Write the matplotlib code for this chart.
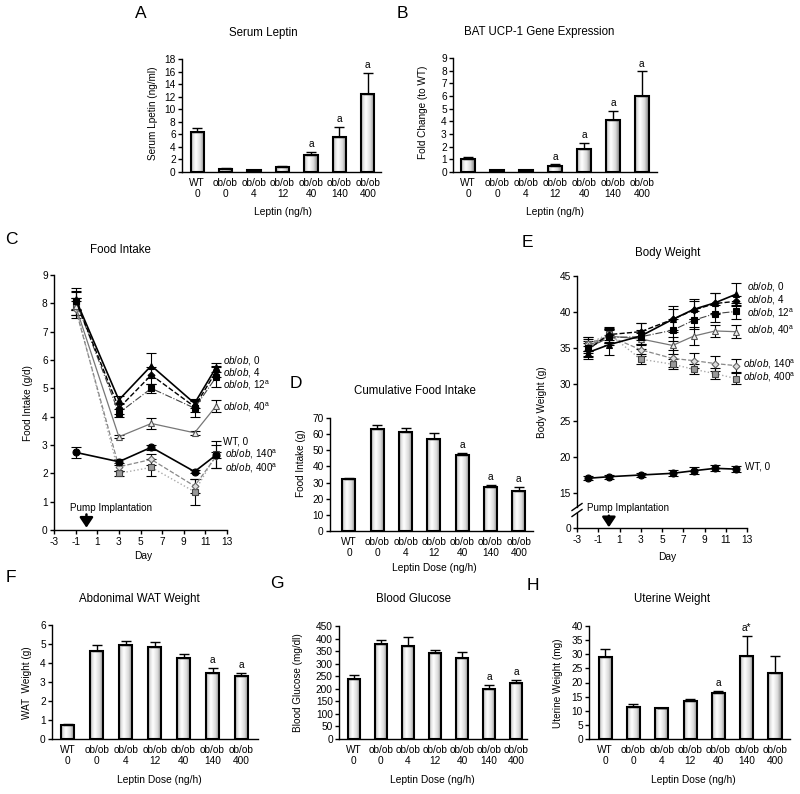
import numpy as np
import matplotlib
matplotlib.use('Agg')
import matplotlib.pyplot as plt
from matplotlib.lines import Line2D

TICK_FS = 7.3
TITLE_FS = 8.3
XLAB_FS = 7.4
YLAB_FS = 7.2
LETTER_FS = 12.5
SERIES_FS = 7.1

plt.rcParams.update({
    'font.family': 'Liberation Sans',
    'mathtext.fontset': 'custom',
    'mathtext.rm': 'Liberation Sans',
    'mathtext.it': 'Liberation Sans:italic',
    'axes.unicode_minus': False,
    'axes.linewidth': 1.0,
    'xtick.labelsize': TICK_FS, 'ytick.labelsize': TICK_FS,
    'xtick.major.width': 1.0, 'ytick.major.width': 1.0,
    'xtick.major.size': 3, 'ytick.major.size': 3,
    'xtick.direction': 'out', 'ytick.direction': 'out',
    'xtick.major.pad': 2, 'ytick.major.pad': 1.5,
})

# ---------------- data ----------------
groups = ['WT\n0', 'ob/ob\n0', 'ob/ob\n4', 'ob/ob\n12', 'ob/ob\n40', 'ob/ob\n140', 'ob/ob\n400']

leptin_vals = [6.4, 0.5, 0.25, 0.8, 2.7, 5.5, 12.5]
leptin_err = [0.6, 0.1, 0.05, 0.1, 0.5, 1.7, 3.3]
leptin_sig = ['', '', '', '', 'a', 'a', 'a']

ucp_vals = [1.0, 0.12, 0.15, 0.5, 1.8, 4.1, 6.0]
ucp_err = [0.2, 0.02, 0.03, 0.1, 0.5, 0.75, 1.95]
ucp_sig = ['', '', '', 'a', 'a', 'a', 'a']

cum_vals = [32, 63, 61.5, 57, 47, 27.5, 24.5]
cum_err = [1.0, 2.5, 2.5, 3.5, 1.2, 1.3, 3.0]
cum_sig = ['', '', '', '', 'a', 'a', 'a']

wat_vals = [0.72, 4.65, 4.93, 4.82, 4.25, 3.5, 3.32]
wat_err = [0.05, 0.3, 0.25, 0.3, 0.25, 0.25, 0.15]
wat_sig = ['', '', '', '', '', 'a', 'a']

glu_vals = [240, 380, 370, 342, 322, 200, 225]
glu_err = [15, 15, 35, 12, 25, 15, 10]
glu_sig = ['', '', '', '', '', 'a', 'a']

ut_vals = [29, 11.3, 10.8, 13.6, 16.3, 29.5, 23.5]
ut_err = [3, 1.0, 0.3, 0.5, 0.8, 7.0, 6.0]
ut_sig = ['', '', '', '', 'a', 'a*', '']

fi_days = [-1, 3, 6, 10, 12]
fi_ob0 = [8.15, 4.59, 5.8, 4.47, 5.74]
fi_ob0_err = [0.4, 0.15, 0.45, 0.15, 0.15]
fi_ob4 = [8.1, 4.3, 5.47, 4.35, 5.6]
fi_ob4_err = [0.3, 0.2, 0.3, 0.2, 0.2]
fi_ob12 = [8.1, 4.13, 5.0, 4.3, 5.4]
fi_ob12_err = [0.35, 0.15, 0.15, 0.3, 0.35]
fi_ob40 = [7.9, 3.29, 3.76, 3.43, 4.38]
fi_ob40_err = [0.3, 0.05, 0.2, 0.08, 0.2]
fi_wt = [2.74, 2.41, 2.92, 2.06, 2.65]
fi_wt_err = [0.2, 0.1, 0.08, 0.05, 0.1]
fi_ob140 = [7.8, 2.23, 2.49, 1.55, 2.6]
fi_ob140_err = [0.3, 0.15, 0.2, 0.25, 0.4]
fi_ob400 = [7.9, 2.0, 2.21, 1.35, 2.67]
fi_ob400_err = [0.3, 0.08, 0.3, 0.45, 0.48]

bw_days = [-2, 0, 3, 6, 8, 10, 12]
bw_ob0 = [34.4, 35.5, 36.7, 39.0, 40.4, 41.3, 42.5]
bw_ob0_err = [0.9, 1.4, 1.8, 1.8, 1.4, 1.4, 1.5]
bw_ob4 = [34.8, 36.9, 37.3, 39.0, 40.3, 41.2, 41.5]
bw_ob4_err = [1.0, 1.0, 1.2, 1.5, 1.3, 1.4, 0.7]
bw_ob12 = [35.0, 36.5, 36.6, 37.5, 38.9, 39.8, 40.1]
bw_ob12_err = [1.0, 1.0, 1.0, 1.5, 1.2, 1.2, 1.1]
bw_ob40 = [35.3, 36.7, 36.3, 35.4, 36.7, 37.4, 37.3]
bw_ob40_err = [1.0, 1.0, 0.8, 1.2, 1.2, 0.8, 0.9]
bw_ob140 = [35.6, 36.7, 34.8, 33.6, 33.3, 32.9, 32.6]
bw_ob140_err = [0.9, 1.0, 0.8, 1.2, 1.0, 1.0, 0.9]
bw_ob400 = [35.6, 37.0, 33.5, 32.8, 32.1, 31.5, 30.8]
bw_ob400_err = [0.9, 0.8, 0.7, 0.7, 0.7, 0.8, 0.8]
bw_wt = [17.03, 17.25, 17.49, 17.72, 18.08, 18.41, 18.3]
bw_wt_err = [0.3, 0.3, 0.3, 0.4, 0.5, 0.4, 0.4]

# ---------------- helpers ----------------
W, H = 800, 794
fig = plt.figure(figsize=(W / 100, H / 100), dpi=100)


def px_axes(l, t, r, b):
    return fig.add_axes([l / W, 1 - b / H, (r - l) / W, (b - t) / H])


def ftext(x, y, s, **kw):
    kw.setdefault('ha', 'center')
    kw.setdefault('va', 'center')
    fig.text(x / W, 1 - y / H, s, **kw)


prof_x = np.linspace(0, 1, 60)
grad = np.interp(prof_x, [0, 0.12, 0.35, 0.7, 1.0], [0.52, 0.85, 1.0, 0.85, 0.48]).reshape(1, -1)


def style_axes(ax):
    ax.spines['top'].set_visible(False)
    ax.spines['right'].set_visible(False)


def bar_panel(ax, vals, errs, sig, ylim, ystep, xlim):
    x = np.arange(len(vals))
    bars = ax.bar(x, vals, width=0.46, facecolor='none', edgecolor='k', linewidth=1.5, zorder=3)
    for b in bars:
        bx, by, bw, bh = b.get_x(), b.get_y(), b.get_width(), b.get_height()
        im = ax.imshow(grad, extent=[bx, bx + bw, by, by + bh], cmap='gray', vmin=0, vmax=1,
                       aspect='auto', interpolation='bilinear', zorder=2.5)
        im.set_clip_path(b)
    ax.errorbar(x, vals, yerr=[np.zeros(len(vals)), errs], fmt='none', ecolor='k',
                elinewidth=1.0, capsize=3.5, capthick=1.0, zorder=4)
    for xi, v, e, s in zip(x, vals, errs, sig):
        if s:
            ax.annotate(s, (xi, v + e), xytext=(0, 2), textcoords='offset points',
                        ha='center', va='bottom', fontsize=TICK_FS)
    ax.set_xticks(x, groups)
    ax.tick_params(axis='x', length=0, pad=4)
    ax.set_xlim(*xlim)
    ax.set_ylim(*ylim)
    ax.set_yticks(np.arange(ylim[0], ylim[1] + ystep / 2, ystep))
    style_axes(ax)


# ---------------- A ----------------
axA = px_axes(182, 59, 381, 172)
bar_panel(axA, leptin_vals, leptin_err, leptin_sig, (0, 18), 2, (-0.53, 6.46))
ftext(141, 14, 'A', fontsize=LETTER_FS)
ftext(263, 33, 'Serum Leptin', fontsize=TITLE_FS)
ftext(153, 113, 'Serum Lpetin (ng/ml)', fontsize=YLAB_FS, rotation=90)
ftext(283, 212, 'Leptin (ng/h)', fontsize=XLAB_FS)

# ---------------- B ----------------
axB = px_axes(453, 58, 657, 172)
bar_panel(axB, ucp_vals, ucp_err, ucp_sig, (0, 9), 1, (-0.52, 6.52))
ftext(402, 14, 'B', fontsize=LETTER_FS)
ftext(539, 32, 'BAT UCP-1 Gene Expression', fontsize=TITLE_FS)
ftext(423, 112, 'Fold Change (to WT)', fontsize=YLAB_FS, rotation=90)
ftext(555, 212, 'Leptin (ng/h)', fontsize=XLAB_FS)

# ---------------- line series styles ----------------
def series(ax, days, vals, errs, marker, ms, mfc, mec, color, ls, lw):
    ax.errorbar(days, vals, yerr=errs, fmt='none', ecolor='k', elinewidth=0.8,
                capsize=3.5, capthick=0.8, zorder=2)
    ax.plot(days, vals, ls=ls, color=color, lw=lw, marker=marker, ms=ms,
            mfc=mfc, mec=mec, mew=0.8, zorder=3)


# ---------------- C ----------------
axC = px_axes(54, 275, 227, 530)
series(axC, fi_days, fi_ob400, fi_ob400_err, 's', 5, '#999999', '#444444', '#aaaaaa', ':', 1.0)
series(axC, fi_days, fi_ob140, fi_ob140_err, 'D', 3.5, '#dddddd', '#666666', '#888888', '--', 0.9)
series(axC, fi_days, fi_wt, fi_wt_err, 'o', 5, 'k', 'k', 'k', '-', 1.2)
series(axC, fi_days, fi_ob40, fi_ob40_err, '^', 5, '#eeeeee', '#555555', '#777777', '-', 0.9)
series(axC, fi_days, fi_ob12, fi_ob12_err, 's', 4.5, 'k', 'k', '#444444', '-.', 0.8)
series(axC, fi_days, fi_ob4, fi_ob4_err, 'D', 3.5, 'k', 'k', 'k', '--', 1.0)
series(axC, fi_days, fi_ob0, fi_ob0_err, '^', 5, 'k', 'k', 'k', '-', 1.2)
axC.set_xlim(-3, 13)
axC.set_ylim(0, 9)
axC.set_xticks(np.arange(-3, 14, 2))
axC.set_yticks(np.arange(0, 10, 1))
style_axes(axC)
lab_kw = dict(fontsize=SERIES_FS, ha='left', va='center', clip_on=False)
axC.text(12.65, 6.0, r'$\mathit{ob/ob}$, 0', **lab_kw)
axC.text(12.65, 5.55, r'$\mathit{ob/ob}$, 4', **lab_kw)
axC.text(12.65, 5.10, r'$\mathit{ob/ob}$, 12$^{\mathrm{a}}$', **lab_kw)
axC.text(12.65, 4.34, r'$\mathit{ob/ob}$, 40$^{\mathrm{a}}$', **lab_kw)
axC.text(12.65, 3.14, 'WT, 0', **lab_kw)
axC.text(12.83, 2.68, r'$\mathit{ob/ob}$, 140$^{\mathrm{a}}$', **lab_kw)
axC.text(12.83, 2.17, r'$\mathit{ob/ob}$, 400$^{\mathrm{a}}$', **lab_kw)
axC.text(-1.5, 0.78, 'Pump Implantation', fontsize=SERIES_FS, ha='left', va='center')
axC.annotate('', xy=(0, 0.08), xytext=(0, 0.55),
             arrowprops=dict(arrowstyle='-|>,head_length=0.6,head_width=0.4', lw=1.8,
                             color='k', mutation_scale=10, shrinkA=0, shrinkB=0))
ftext(11, 240, 'C', fontsize=LETTER_FS)
ftext(120, 250, 'Food Intake', fontsize=TITLE_FS)
ftext(28, 403, 'Food Intake (g/d)', fontsize=YLAB_FS, rotation=90)
ftext(143, 556, 'Day', fontsize=XLAB_FS)

# ---------------- D ----------------
axD = px_axes(330, 418, 533, 531)
bar_panel(axD, cum_vals, cum_err, cum_sig, (0, 70), 10, (-0.67, 6.5))
ftext(296, 383, 'D', fontsize=LETTER_FS)
ftext(415, 391, 'Cumulative Food Intake', fontsize=TITLE_FS)
ftext(301, 463, 'Food Intake (g)', fontsize=YLAB_FS, rotation=90)
ftext(434, 568, 'Leptin Dose (ng/h)', fontsize=XLAB_FS)

# ---------------- E ----------------
axE = px_axes(577, 276, 747, 507)
axE2 = px_axes(577, 513, 747, 528)
series(axE, bw_days, bw_ob400, bw_ob400_err, 's', 5, '#999999', '#444444', '#aaaaaa', ':', 1.0)
series(axE, bw_days, bw_ob140, bw_ob140_err, 'D', 3.5, '#dddddd', '#666666', '#888888', '--', 0.9)
series(axE, bw_days, bw_ob40, bw_ob40_err, '^', 5, '#eeeeee', '#555555', '#777777', '-', 0.9)
series(axE, bw_days, bw_ob12, bw_ob12_err, 's', 4.5, 'k', 'k', '#444444', '-.', 0.8)
series(axE, bw_days, bw_ob4, bw_ob4_err, 'D', 3.5, 'k', 'k', 'k', '--', 1.0)
series(axE, bw_days, bw_ob0, bw_ob0_err, '^', 5, 'k', 'k', 'k', '-', 1.2)
series(axE, bw_days, bw_wt, bw_wt_err, 'o', 5, 'k', 'k', 'k', '-', 1.2)
axE.set_xlim(-3, 13)
axE.set_ylim(15 - 14 / 7.233, 45)
axE.set_yticks(np.arange(15, 46, 5))
axE.spines['top'].set_visible(False)
axE.spines['right'].set_visible(False)
axE.spines['bottom'].set_visible(False)
axE.tick_params(axis='x', bottom=False, labelbottom=False)
axE2.set_xlim(-3, 13)
axE2.set_ylim(0, 15 / 7.233)
axE2.set_yticks([0])
axE2.set_xticks(np.arange(-3, 14, 2))
style_axes(axE2)
axE2.patch.set_alpha(0)
axE.text(13.0, 43.6, r'$\mathit{ob/ob}$, 0', **lab_kw)
axE.text(13.0, 41.7, r'$\mathit{ob/ob}$, 4', **lab_kw)
axE.text(13.0, 39.9, r'$\mathit{ob/ob}$, 12$^{\mathrm{a}}$', **lab_kw)
axE.text(13.0, 37.5, r'$\mathit{ob/ob}$, 40$^{\mathrm{a}}$', **lab_kw)
axE.text(12.6, 32.8, r'$\mathit{ob/ob}$, 140$^{\mathrm{a}}$', **lab_kw)
axE.text(12.6, 31.0, r'$\mathit{ob/ob}$, 400$^{\mathrm{a}}$', **lab_kw)
axE.text(12.8, 18.6, 'WT, 0', **lab_kw)
axE2.text(-2.1, 2.77, 'Pump Implantation', fontsize=SERIES_FS, ha='left', va='center', clip_on=False)
axE2.annotate('', xy=(0, 0.1), xytext=(0, 1.7),
              arrowprops=dict(arrowstyle='-|>,head_length=0.6,head_width=0.4', lw=1.8,
                              color='k', mutation_scale=10, shrinkA=0, shrinkB=0))
for (x0, y0, x1, y1) in [(572, 510.5, 582, 503.5), (572, 516.5, 582, 509.5)]:
    fig.add_artist(Line2D([x0 / W, x1 / W], [1 - y0 / H, 1 - y1 / H], color='k', lw=1.0))
ftext(527, 243, 'E', fontsize=LETTER_FS)
ftext(668, 253, 'Body Weight', fontsize=TITLE_FS)
ftext(542, 402, 'Body Weight (g)', fontsize=YLAB_FS, rotation=90)
ftext(667, 557, 'Day', fontsize=XLAB_FS)

# ---------------- F ----------------
axF = px_axes(52, 625, 258, 739)
bar_panel(axF, wat_vals, wat_err, wat_sig, (0, 6), 1, (-0.54, 6.57))
ftext(11, 578, 'F', fontsize=LETTER_FS)
ftext(139, 599, 'Abdonimal WAT Weight', fontsize=TITLE_FS)
ftext(27, 683, 'WAT  Weight (g)', fontsize=YLAB_FS, rotation=90)
ftext(159, 780, 'Leptin Dose (ng/h)', fontsize=XLAB_FS)

# ---------------- G ----------------
axG = px_axes(339, 626, 527, 739)
bar_panel(axG, glu_vals, glu_err, glu_sig, (0, 450), 50, (-0.55, 6.4))
ftext(277, 583, 'G', fontsize=LETTER_FS)
ftext(413, 599, 'Blood Glucose', fontsize=TITLE_FS)
ftext(298, 683, 'Blood Glucose (mg/dl)', fontsize=YLAB_FS, rotation=90)
ftext(432, 780, 'Leptin Dose (ng/h)', fontsize=XLAB_FS)

# ---------------- H ----------------
axH = px_axes(589, 626, 790, 739)
bar_panel(axH, ut_vals, ut_err, ut_sig, (0, 40), 5, (-0.57, 6.53))
ftext(533, 585, 'H', fontsize=LETTER_FS)
ftext(672, 599, 'Uterine Weight', fontsize=TITLE_FS)
ftext(558, 683, 'Uterine Weight (mg)', fontsize=YLAB_FS, rotation=90)
ftext(693, 780, 'Leptin Dose (ng/h)', fontsize=XLAB_FS)

fig.savefig('out.png', dpi=100)
